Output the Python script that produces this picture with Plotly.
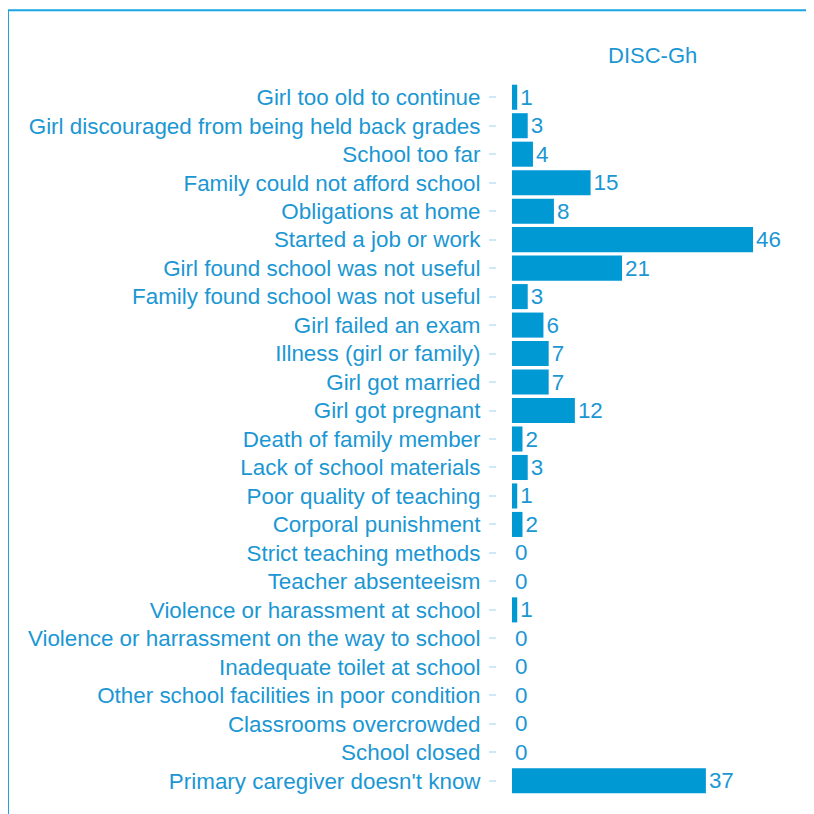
import plotly.graph_objects as go

categories = [
    "Girl too old to continue",
    "Girl discouraged from being held back grades",
    "School too far",
    "Family could not afford school",
    "Obligations at home",
    "Started a job or work",
    "Girl found school was not useful",
    "Family found school was not useful",
    "Girl failed an exam",
    "Illness (girl or family)",
    "Girl got married",
    "Girl got pregnant",
    "Death of family member",
    "Lack of school materials",
    "Poor quality of teaching",
    "Corporal punishment",
    "Strict teaching methods",
    "Teacher absenteeism",
    "Violence or harassment at school",
    "Violence or harrassment on the way to school",
    "Inadequate toilet at school",
    "Other school facilities in poor condition",
    "Classrooms overcrowded",
    "School closed",
    "Primary caregiver doesn't know",
]
values = [1, 3, 4, 15, 8, 46, 21, 3, 6, 7, 7, 12, 2, 3, 1, 2, 0, 0, 1, 0, 0, 0, 0, 0, 37]
title_text = "DISC-Gh"

BAR = "#0099d4"
TXT = "#1b97d3"
FONT = "Liberation Sans"
FS = 22.4

W, H = 814, 814
L, R, T, B = 489, 14, 74.75, 26.75
pw = W - L - R
ph = H - T - B
scale = 5.24
x0 = -(504 - L) / scale
x1 = x0 + pw / scale

fig = go.Figure(go.Bar(
    x=values, y=categories, orientation="h",
    marker=dict(color=BAR, line=dict(width=0)),
    text=[str(v) for v in values], textposition="outside",
    textfont=dict(color=TXT, size=FS, family=FONT),
    cliponaxis=False, width=0.88,
))

def px_x(p):
    return (p - L) / pw

def px_y(p):
    return (H - B - p) / ph

fig.update_layout(
    width=W, height=H,
    margin=dict(l=L, r=R, t=T, b=B, pad=0),
    paper_bgcolor="white", plot_bgcolor="white",
    showlegend=False,
    font=dict(family=FONT, color=TXT, size=FS),
    xaxis=dict(range=[x0, x1], visible=False, showgrid=False, zeroline=False),
    yaxis=dict(
        categoryorder="array", categoryarray=categories,
        range=[len(categories) - 0.5, -0.5],
        showgrid=False, zeroline=False, showline=False,
        ticks="outside", ticklen=7, tickwidth=1.5, tickcolor="#cde9f6",
        ticklabelstandoff=4,
        tickfont=dict(color=TXT, size=FS, family=FONT),
    ),
    annotations=[dict(
        text=title_text, x=px_x(644), y=px_y(47), xref="paper", yref="paper",
        showarrow=False, font=dict(color=TXT, size=22, family=FONT),
        xanchor="center", yanchor="middle",
    )],
    shapes=[dict(
        type="rect", xref="paper", yref="paper",
        x0=px_x(0), x1=px_x(840), y0=px_y(840), y1=px_y(2),
        line=dict(color="#1aa5e0", width=2), fillcolor="rgba(0,0,0,0)", layer="below",
    )],
)

fig.write_html("out.html")
